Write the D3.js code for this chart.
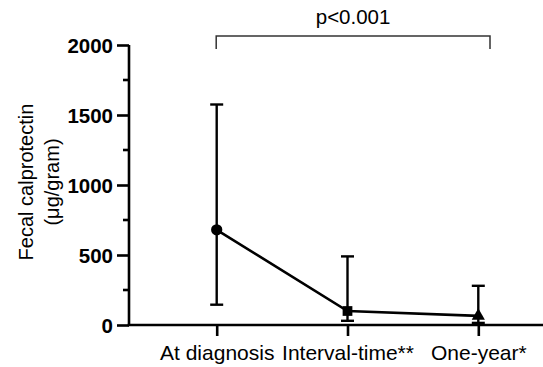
<!DOCTYPE html>
<html>
<head>
<meta charset="utf-8">
<script src="https://cdn.jsdelivr.net/npm/d3@7"></script>
<style>
  html, body { margin: 0; padding: 0; background: #fff; }
  svg { display: block; }
  text { font-family: "Liberation Sans", Arial, sans-serif; fill: #000; }
</style>
</head>
<body>
<svg id="chart" width="543" height="367"></svg>
<script>
// ---- data ----
const categories = ["At diagnosis", "Interval-time**", "One-year*"];
const medians    = [680, 100, 65];
const upperVals  = [1575, 490, 280];
const lowerVals  = [145, 30, 15];
const markers    = ["circle", "square", "triangle"];
const yTicks     = [0, 500, 1000, 1500, 2000];
const yMinorTicks = [250, 750, 1250, 1750];
const pLabel     = "p<0.001";
const yLabelLines = ["Fecal calprotectin", "(μg/gram)"];

// ---- layout ----
const W = 543, H = 367;
const axisX = 129, axisY = 325, topY = 45;
const svg = d3.select("#chart");

const y = d3.scaleLinear().domain([0, 2000]).range([axisY, topY]);
const x = d3.scalePoint().domain(categories).range([216.7, 478.3]);

const black = "#000";

// y axis
const yAxis = d3.axisLeft(y).tickValues(yTicks).tickSize(12).tickPadding(4).tickFormat(d3.format("d"));
const gy = svg.append("g").attr("transform", `translate(${axisX},0)`).call(yAxis);
gy.select(".domain").attr("d", `M0,${y(2000)}V${y(0)}`).attr("stroke", black).attr("stroke-width", 2.6);
gy.selectAll(".tick line").attr("stroke", black).attr("stroke-width", 2.6);
gy.selectAll(".tick text")
  .attr("font-family", '"Liberation Sans", Arial, sans-serif')
  .attr("font-weight", "bold").attr("font-size", 20.5).attr("dy", "0.38em").attr("fill", black);

// minor ticks
svg.append("g").selectAll("line").data(yMinorTicks).join("line")
  .attr("x1", axisX - 6).attr("x2", axisX)
  .attr("y1", d => y(d)).attr("y2", d => y(d))
  .attr("stroke", black).attr("stroke-width", 2.6);

// x axis
const xAxis = d3.axisBottom(x).tickSize(11).tickPadding(9);
const gx = svg.append("g").attr("transform", `translate(0,${axisY})`).call(xAxis);
gx.select(".domain").attr("d", `M${axisX - 1.3},0H${W}`).attr("stroke", black).attr("stroke-width", 2.6);
gx.selectAll(".tick line").attr("stroke", black).attr("stroke-width", 2.6);
gx.selectAll(".tick text")
  .attr("font-family", '"Liberation Sans", Arial, sans-serif')
  .attr("font-size", 21).attr("dy", "0.71em").attr("fill", black);

// y label
const yl = svg.append("text")
  .attr("transform", `translate(0,182) rotate(-90)`)
  .attr("text-anchor", "middle")
  .attr("font-size", 20);
yl.selectAll("tspan").data(yLabelLines).join("tspan")
  .attr("x", 0).attr("y", (d, i) => 32.5 + i * 26.5)
  .text(d => d);

// data
const data = categories.map((c, i) => ({c, m: medians[i], hi: upperVals[i], lo: lowerVals[i], mk: markers[i]}));

// error bars
const capW = 13;
const eb = svg.append("g").attr("stroke", black).attr("stroke-width", 2.4).attr("fill", "none");
data.forEach(d => {
  eb.append("line").attr("x1", x(d.c)).attr("x2", x(d.c)).attr("y1", y(d.hi)).attr("y2", y(d.lo));
  eb.append("line").attr("x1", x(d.c) - capW / 2).attr("x2", x(d.c) + capW / 2).attr("y1", y(d.hi)).attr("y2", y(d.hi));
  eb.append("line").attr("x1", x(d.c) - capW / 2).attr("x2", x(d.c) + capW / 2).attr("y1", y(d.lo)).attr("y2", y(d.lo));
});

// connecting line
svg.append("path").datum(data)
  .attr("d", d3.line().x(d => x(d.c)).y(d => y(d.m)))
  .attr("fill", "none").attr("stroke", black).attr("stroke-width", 2.6);

// markers
const symMap = {circle: d3.symbolCircle, square: d3.symbolSquare, triangle: d3.symbolTriangle};
const sizeMap = {circle: 100, square: 95, triangle: 75};
svg.append("g").selectAll("path").data(data).join("path")
  .attr("transform", d => `translate(${x(d.c)},${y(d.m)})`)
  .attr("d", d => d3.symbol().type(symMap[d.mk]).size(sizeMap[d.mk])())
  .attr("fill", black);

// significance bracket
const bx1 = x(categories[0]) - 0.5, bx2 = x(categories[2]) + 11.7;
const bTop = topY - 9, bBot = topY + 4;
svg.append("path")
  .attr("d", `M${bx1},${bBot}V${bTop}H${bx2}V${bBot}`)
  .attr("fill", "none").attr("stroke", "#333").attr("stroke-width", 1.5);
svg.append("text")
  .attr("x", (bx1 + bx2) / 2).attr("y", 23.5)
  .attr("text-anchor", "middle").attr("font-size", 20.5)
  .text(pLabel);
</script>
</body>
</html>
